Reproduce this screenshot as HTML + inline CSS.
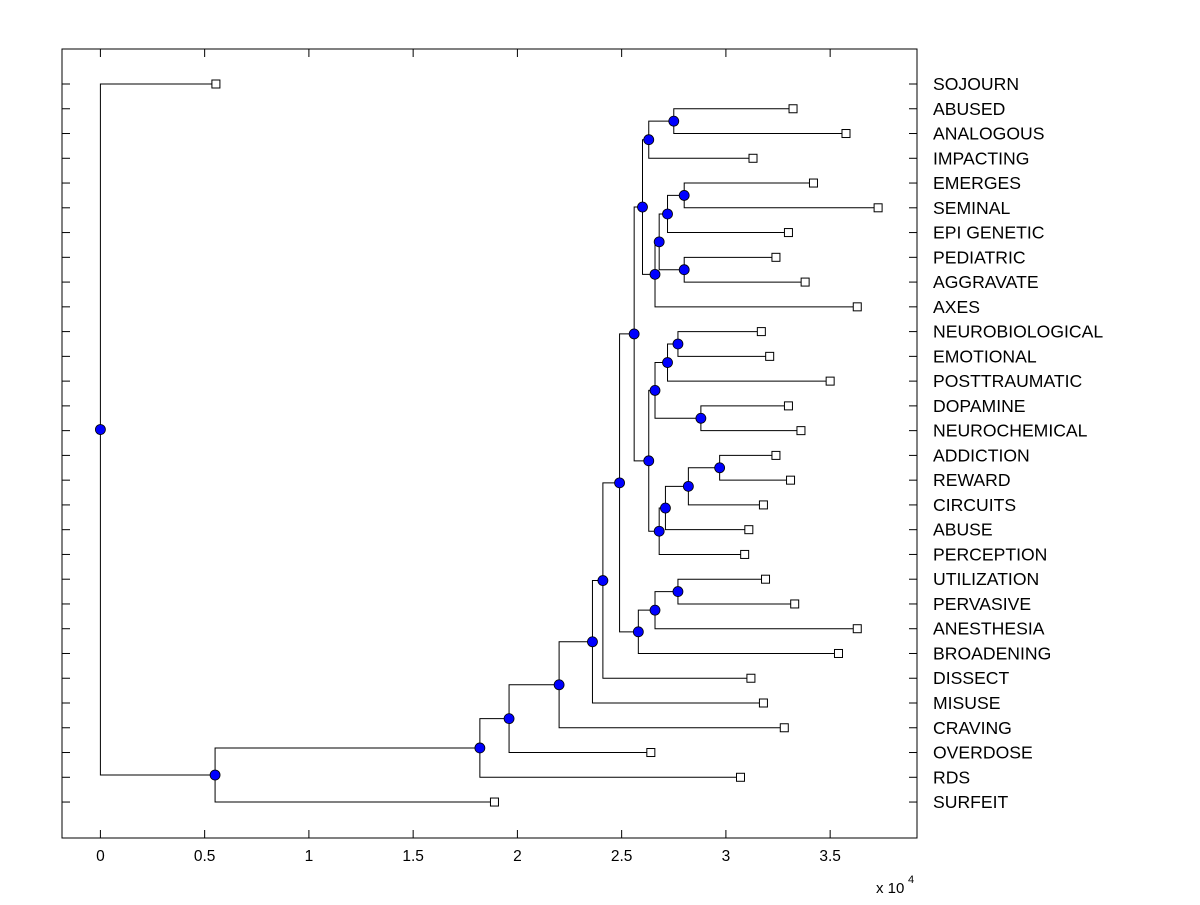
<!DOCTYPE html>
<html><head><meta charset="utf-8"><style>
body{margin:0;background:#fff;}
svg text{font-family:"Liberation Sans",Arial,sans-serif;fill:#000;}
</style></head><body>
<svg id="chart" width="1200" height="900" xmlns="http://www.w3.org/2000/svg">
<rect x="0" y="0" width="1200" height="900" fill="#fff"/>
<g id="plot"></g>
<text x="876" y="893" font-size="15">x 10</text>
<text x="908" y="883" font-size="11">4</text>
</svg>
<script>
const labels = ["SOJOURN","ABUSED","ANALOGOUS","IMPACTING","EMERGES","SEMINAL","EPI GENETIC","PEDIATRIC","AGGRAVATE","AXES","NEUROBIOLOGICAL","EMOTIONAL","POSTTRAUMATIC","DOPAMINE","NEUROCHEMICAL","ADDICTION","REWARD","CIRCUITS","ABUSE","PERCEPTION","UTILIZATION","PERVASIVE","ANESTHESIA","BROADENING","DISSECT","MISUSE","CRAVING","OVERDOSE","RDS","SURFEIT"];
const leafValues = [0.554,3.322,3.576,3.13,3.42,3.73,3.30,3.24,3.38,3.63,3.17,3.21,3.50,3.30,3.36,3.24,3.31,3.18,3.11,3.09,3.19,3.33,3.63,3.54,3.12,3.18,3.28,2.64,3.07,1.89];
const nodeNames = ["P","N","T","R","S","Q","O","L","Y","W","X","U","BB","AA","Z","V","M","H","K","J","I","G","F","E","D","C","B","A","ROOT"];
const nodeHeights = [2.75,2.63,2.80,2.72,2.80,2.68,2.66,2.60,2.77,2.72,2.88,2.66,2.97,2.82,2.71,2.68,2.63,2.56,2.77,2.66,2.58,2.49,2.41,2.36,2.20,1.96,1.82,0.55,0];
const nodeChildren = [["ABUSED","ANALOGOUS"],["P","IMPACTING"],["EMERGES","SEMINAL"],["T","EPI GENETIC"],["PEDIATRIC","AGGRAVATE"],["R","S"],["Q","AXES"],["N","O"],["NEUROBIOLOGICAL","EMOTIONAL"],["Y","POSTTRAUMATIC"],["DOPAMINE","NEUROCHEMICAL"],["W","X"],["ADDICTION","REWARD"],["BB","CIRCUITS"],["AA","ABUSE"],["Z","PERCEPTION"],["U","V"],["L","M"],["UTILIZATION","PERVASIVE"],["K","ANESTHESIA"],["J","BROADENING"],["H","I"],["G","DISSECT"],["F","MISUSE"],["E","CRAVING"],["D","OVERDOSE"],["C","RDS"],["B","SURFEIT"],["SOJOURN","A"]];
const xTicks = [0,0.5,1,1.5,2,2.5,3,3.5];
const xTickLabels = ["0","0.5","1","1.5","2","2.5","3","3.5"];

const L=62,R=917,T=49,B=838;
const xs = v => 100.4 + v*208.5;
const ys = i => 84 + i*24.76;
const NS="http://www.w3.org/2000/svg";
const g=document.getElementById('plot');
function el(tag,attrs,parent){const e=document.createElementNS(NS,tag);for(const k in attrs)e.setAttribute(k,attrs[k]);(parent||g).appendChild(e);return e;}

const box=el('rect',{x:L,y:T,width:R-L,height:B-T,fill:'none',stroke:'#000','stroke-width':1});



labels.forEach((lab,i)=>{
  const y=ys(i);
  const t1=el('line',{x1:L,y1:y,x2:L+8,y2:y,stroke:'#000'});
  
  
  const t2=el('line',{x1:R-8,y1:y,x2:R,y2:y,stroke:'#000'});
  
  
  const t=el('text',{x:933,y:y+6,'font-size':17.6});
  t.textContent=lab;
  
  
});
xTicks.forEach((v,i)=>{
  const x=xs(v);
  const a=el('line',{x1:x,y1:B,x2:x,y2:B-8,stroke:'#000'});
  
  
  const b=el('line',{x1:x,y1:T,x2:x,y2:T+8,stroke:'#000'});
  
  
  const t=el('text',{x:x,y:861,'font-size':15.5,'text-anchor':'middle'});
  t.textContent=xTickLabels[i];
  
  
});

const pos={};
labels.forEach((lab,i)=>{pos[lab]={x:xs(leafValues[i]),y:ys(i)};});
nodeNames.forEach((n,i)=>{
  const a=pos[nodeChildren[i][0]], b=pos[nodeChildren[i][1]];
  pos[n]={x:xs(nodeHeights[i]),y:(a.y+b.y)/2};
});
nodeNames.forEach((n,i)=>{
  const p=pos[n];
  const a=pos[nodeChildren[i][0]], b=pos[nodeChildren[i][1]];
  const path=el('path',{d:`M${a.x},${a.y}H${p.x}V${b.y}H${b.x}`,fill:'none',stroke:'#000','stroke-width':1});
  
  
});
labels.forEach(lab=>{
  const p=pos[lab];
  const s=el('rect',{x:p.x-4,y:p.y-4,width:8,height:8,fill:'#fff',stroke:'#000'});
  
  
});
nodeNames.forEach(n=>{
  const p=pos[n];
  const c=el('circle',{cx:p.x,cy:p.y,r:5,fill:'#0000ff',stroke:'#000','stroke-width':0.8});
  
  
});
</script>
</body></html>
